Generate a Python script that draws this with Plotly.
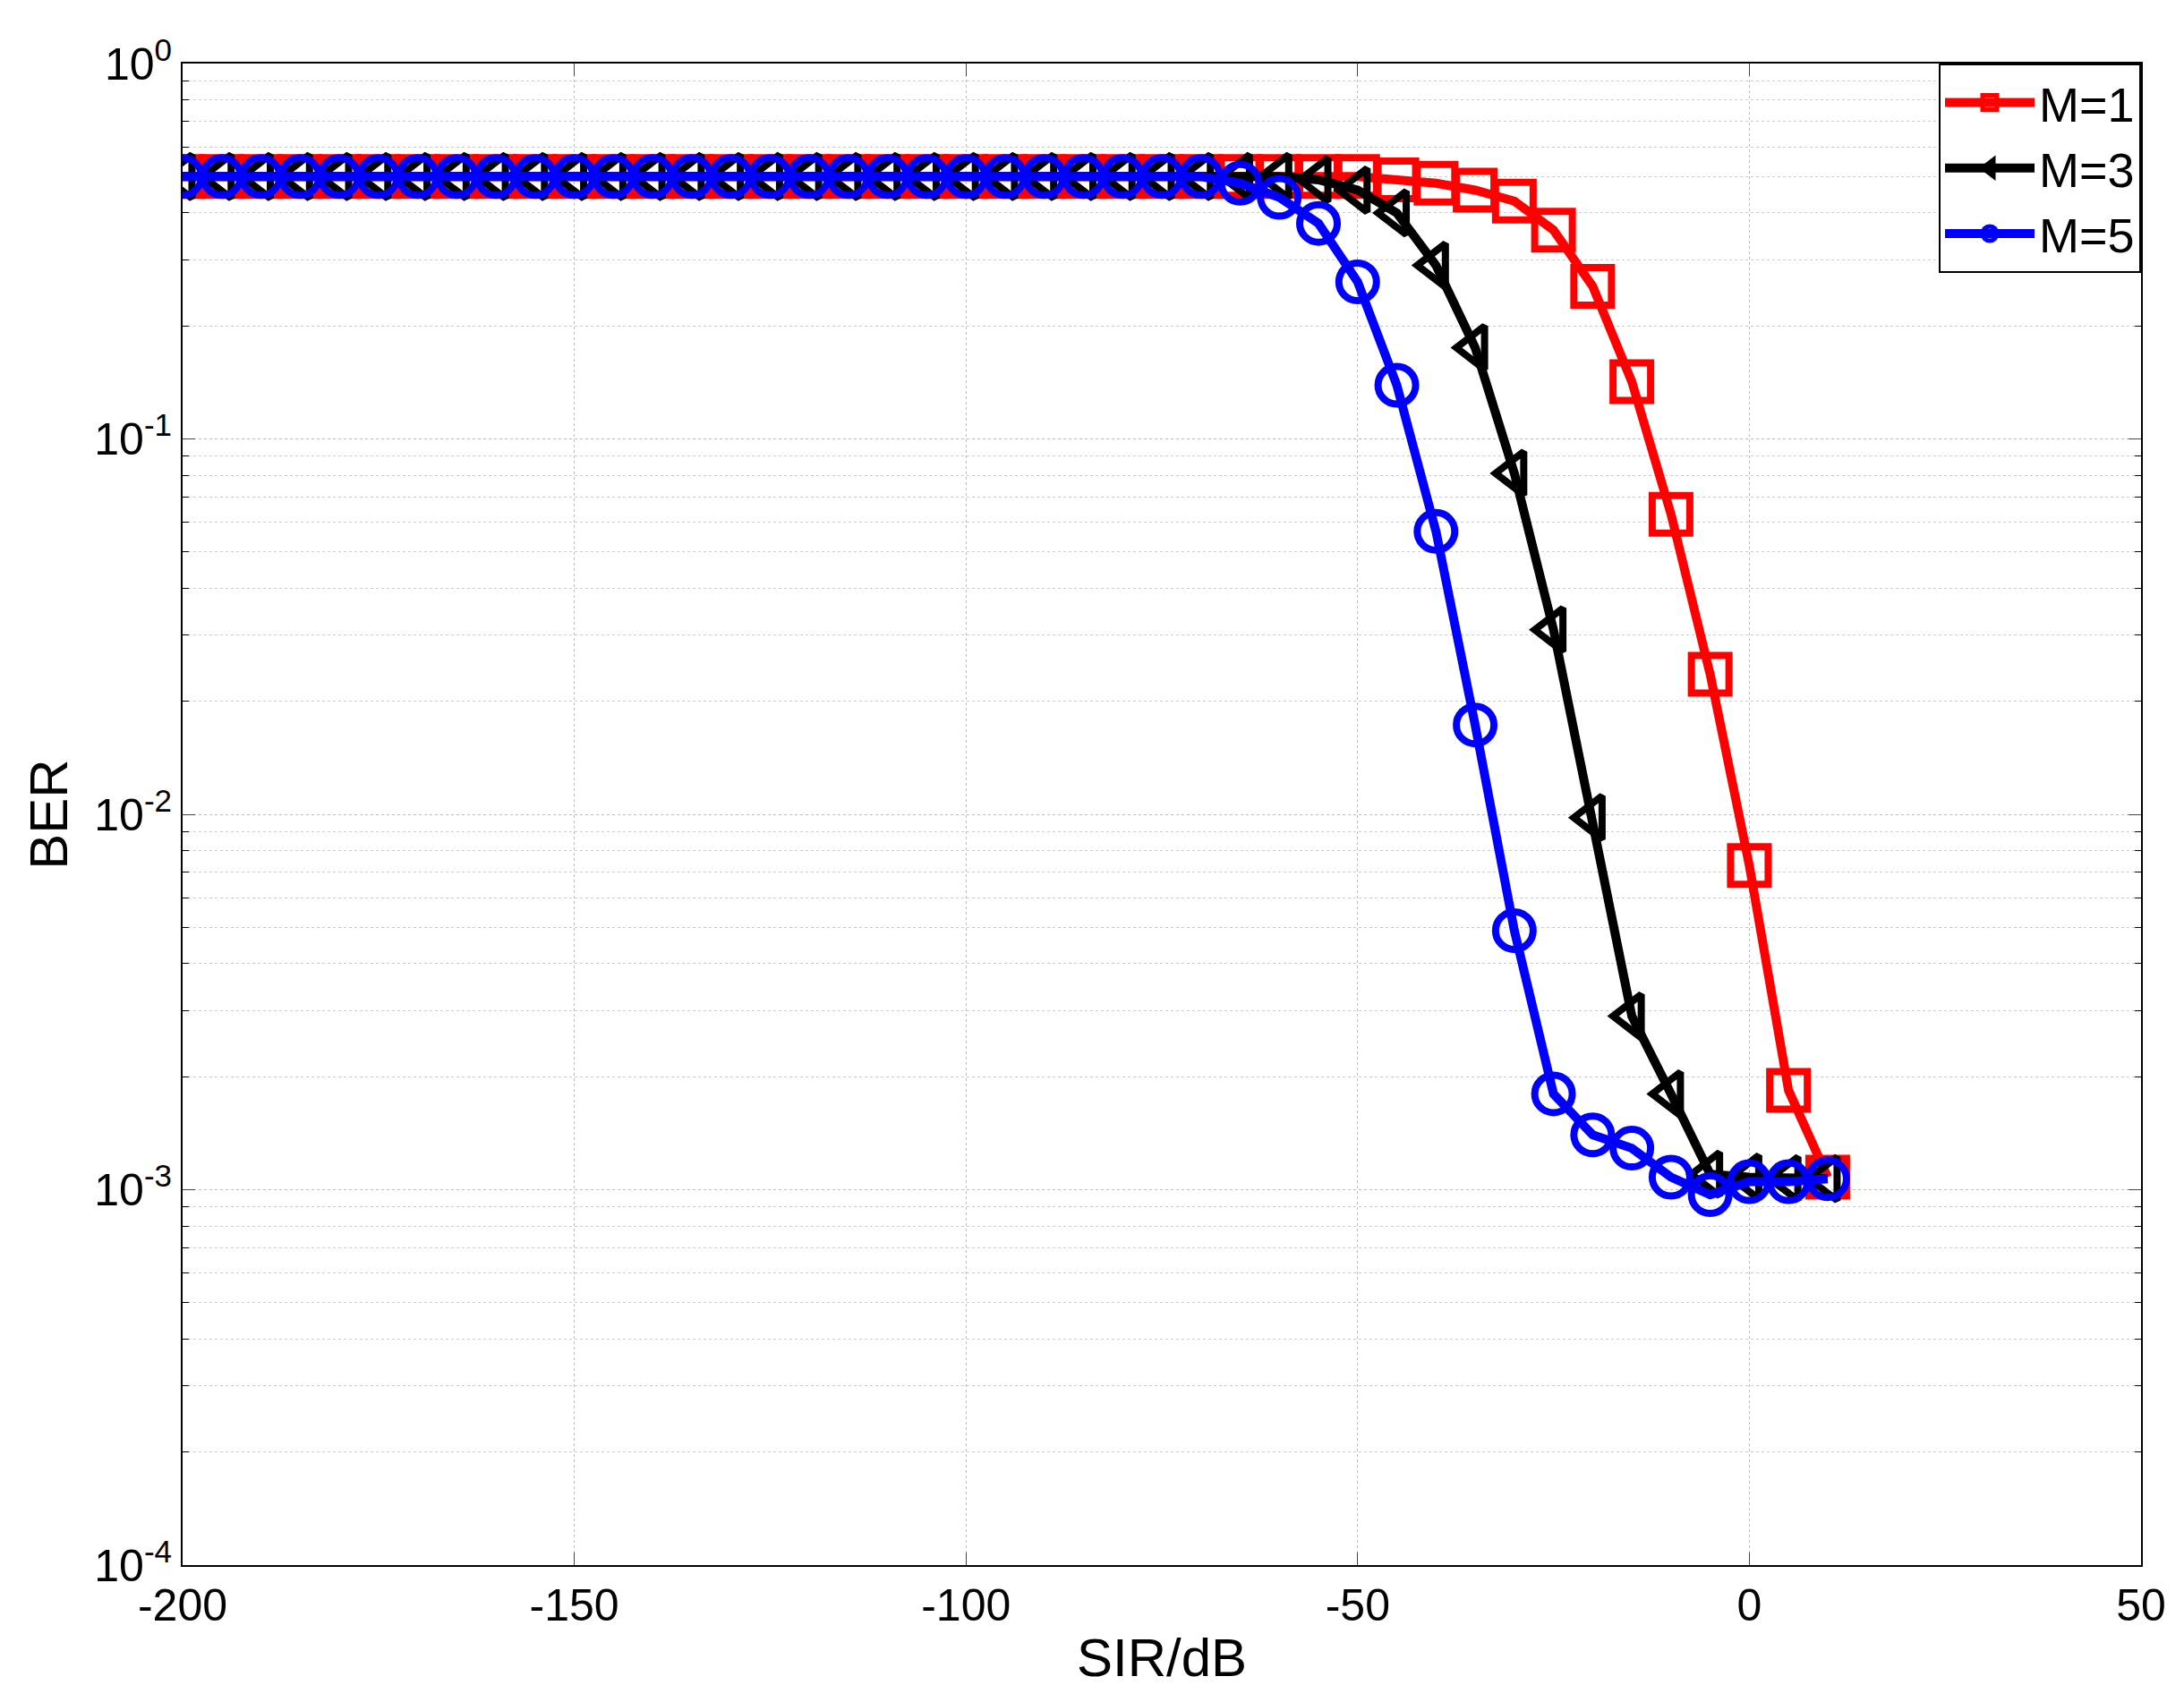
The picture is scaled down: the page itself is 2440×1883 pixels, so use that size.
import plotly.graph_objects as go

x = list(range(-200, 11, 5))
flat_m1 = [0.5] * 28  # -200..-65
m1 = flat_m1 + [0.5, 0.5, 0.5, 0.49, 0.48, 0.46, 0.43, 0.36, 0.255, 0.142, 0.063, 0.0236, 0.0073, 0.00184, 0.00108]
flat_m3 = [0.5] * 28
m3 = flat_m3 + [0.5, 0.49, 0.46, 0.40, 0.29, 0.175, 0.081, 0.031, 0.0098, 0.0029, 0.0018, 0.0011, 0.00108, 0.00107, 0.00107]
flat_m5 = [0.5] * 27
m5 = flat_m5 + [0.48, 0.44, 0.375, 0.262, 0.139, 0.0567, 0.0173, 0.0049, 0.0018, 0.0014, 0.00129, 0.00108, 0.00097, 0.00105, 0.00105, 0.00107]

series = [("M=1", m1, "red", "square-open"), ("M=3", m3, "black", "triangle-left-open"), ("M=5", m5, "blue", "circle-open")]

fig = go.Figure()
for name, y, c, sym in series:
    fig.add_trace(go.Scatter(x=x, y=y, name=name, mode="lines+markers",
                             line=dict(color=c, width=10),
                             marker=dict(symbol=sym, size=42, color=c, line=dict(width=8, color=c))))

fig.update_layout(
    width=2440, height=1883, paper_bgcolor="white", plot_bgcolor="white",
    margin=dict(l=196, r=56, t=63, b=142),
    font=dict(family="Liberation Sans, Arial", size=50, color="black"),
    legend=dict(x=1, y=1, xanchor="right", yanchor="top", bordercolor="black", borderwidth=2,
                bgcolor="white", font=dict(size=54), itemwidth=100, tracegroupgap=0),
)
fig.update_xaxes(range=[-200, 50], tickvals=[-200, -150, -100, -50, 0, 50],
                 ticktext=["-200", "-150", "-100", "-50", "0", "50"],
                 title=dict(text="SIR/dB", standoff=10), showline=True, mirror="ticks", linecolor="black", linewidth=2,
                 ticks="inside", ticklen=14, showgrid=True, gridcolor="#bbbbbb", griddash="dot", gridwidth=1, zeroline=False)
fig.update_yaxes(type="log", range=[-4, 0], tickvals=[1e-4, 1e-3, 1e-2, 1e-1, 1],
                 ticktext=["10<sup>-4</sup>", "10<sup>-3</sup>", "10<sup>-2</sup>", "10<sup>-1</sup>", "10<sup>0</sup>"],
                 title=dict(text="BER", standoff=10), showline=True, mirror="ticks", linecolor="black", linewidth=2,
                 ticks="inside", ticklen=14, showgrid=True, gridcolor="#bbbbbb", griddash="dot", gridwidth=1,
                 minor=dict(tickvals=[k * 10**e for e in range(-4, 0) for k in range(2, 10)], showgrid=True,
                            gridcolor="#cccccc", griddash="dot", ticks="inside", ticklen=7, tickcolor="black"))
fig.write_html("out.html")
